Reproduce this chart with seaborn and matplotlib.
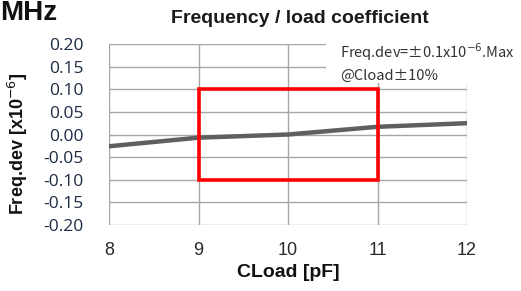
import matplotlib
matplotlib.use("Agg")
import matplotlib.pyplot as plt
import matplotlib.patches as mpatches
import pandas as pd
import seaborn as sns

cload = [8, 9, 10, 11, 12]
freq_dev = [-0.026, -0.007, 0.0, 0.017, 0.025]
x_ticks = [8, 9, 10, 11, 12]
y_ticks = [-0.20, -0.15, -0.10, -0.05, 0.00, 0.05, 0.10, 0.15, 0.20]
spec_x = [9, 11]
spec_y = [-0.10, 0.10]

sns.set_theme(style="white")
plt.rcParams["font.family"] = ["Liberation Sans", "DejaVu Sans"]

df = pd.DataFrame({"cload": cload, "freq_dev": freq_dev})

fig = plt.figure(figsize=(5.21, 2.91), dpi=100)
ax = fig.add_axes([0.2092, 0.2268, 0.6872, 0.6220])

sns.lineplot(data=df, x="cload", y="freq_dev", ax=ax, color="#5f5f5f",
             linewidth=3.2, zorder=3)

ax.set_xlim(8, 12)
ax.set_ylim(-0.20, 0.20)
ax.set_xticks(x_ticks)
ax.set_yticks(y_ticks)
ax.set_xticklabels([str(t) for t in x_ticks], fontsize=13, color="#2a2a2a")
ax.set_yticklabels([f"{t:.2f}" for t in y_ticks], fontsize=12.5,
                   color="#1c2a44", family=["Open Sans", "DejaVu Sans"])
ax.tick_params(axis="x", length=0, pad=12)
ax.tick_params(axis="y", length=0, pad=18)
ax.grid(True, color="#a6a6a6", linewidth=1.0)
for s in ax.spines.values():
    s.set_visible(False)

rect = mpatches.Rectangle((spec_x[0], spec_y[0]), spec_x[1] - spec_x[0],
                          spec_y[1] - spec_y[0], fill=False,
                          edgecolor="#ff0000", linewidth=2.6, zorder=4)
ax.add_patch(rect)

ax.set_xlabel("CLoad [pF]", fontsize=14, fontweight="bold", color="#111111")
ax.xaxis.set_label_coords(0.5, -0.215)
ax.set_ylabel("Freq.dev [x10$^{-6}$]", fontsize=13, fontweight="bold",
              color="#111111")
ax.yaxis.set_label_coords(-0.222, 0.45)

fig.text(0.576, 0.935, "Frequency / load coefficient", ha="center",
         va="center", fontsize=14, fontweight="bold", color="#1a1a1a")
fig.text(0.0, 0.955, "MHz", ha="left", va="center", fontsize=20,
         fontweight="bold", color="#111111")

# white note box in the upper right corner
fig.patches.append(mpatches.Rectangle((0.626, 0.715), 0.374, 0.155,
                                      transform=fig.transFigure,
                                      facecolor="white", edgecolor="none",
                                      zorder=5))
note_font = ["Noto Sans CJK JP", "DejaVu Sans"]
fig.text(0.652, 0.820, "Freq.dev=\u00b10.1x10$^{-6}$.Max",
         ha="left", va="center", fontsize=10.5, color="#333333", zorder=6,
         family=note_font)
fig.text(0.652, 0.738, "@Cload\u00b110%", ha="left", va="center",
         fontsize=10.5, color="#333333", zorder=6, family=note_font)

fig.savefig("out.png", dpi=100)
